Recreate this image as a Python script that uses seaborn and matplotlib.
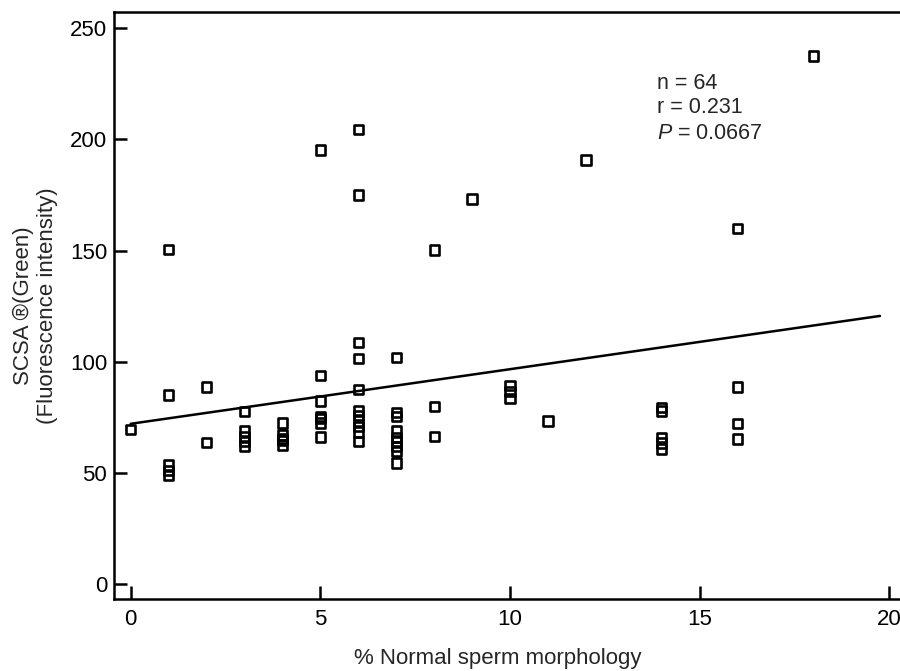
import numpy as np
import pandas as pd
import matplotlib
matplotlib.use("Agg")
import matplotlib.pyplot as plt
import seaborn as sns

# ---- data ----
morphology = [0,
              1, 1, 1, 1, 1,
              2, 2,
              3, 3, 3, 3, 3,
              4, 4, 4, 4, 4,
              5, 5, 5, 5, 5, 5, 5,
              6, 6, 6, 6, 6, 6, 6, 6, 6, 6, 6,
              7, 7, 7, 7, 7, 7, 7, 7, 7,
              8, 8, 8,
              9,
              10, 10, 10,
              11,
              12,
              14, 14, 14, 14, 14,
              16, 16, 16, 16,
              18]
scsa_green = [69.4,
              150.4, 85.1, 53.5, 51.0, 48.8,
              88.7, 63.7,
              77.6, 68.8, 66.4, 64.0, 62.0,
              72.4, 67.1, 65.5, 64.5, 62.6,
              195.3, 93.8, 82.4, 75.5, 74.5, 72.5, 66.2,
              204.6, 175.0, 108.8, 101.6, 87.5, 78.2, 75.8, 73.4, 70.8, 68.4, 64.2,
              102.0, 77.2, 75.5, 68.8, 66.0, 64.0, 61.9, 59.6, 54.5,
              150.3, 79.9, 66.4,
              173.2,
              89.3, 86.5, 83.6,
              73.4,
              190.8,
              79.3, 77.8, 65.8, 63.5, 60.8,
              159.8, 88.7, 72.1, 65.2,
              237.5]
x_ticks = [0, 5, 10, 15, 20]
y_ticks = [0, 50, 100, 150, 200, 250]
fit_intercept = 72.1
fit_slope = 2.456
fit_x_range = [0.0, 19.75]
stats_lines = ["n = 64", "r = 0.231", "$P$ = 0.0667"]
x_label = "% Normal sperm morphology"
y_label = "SCSA \u00ae(Green)\n(Fluorescence intensity)"

sns.set_theme(style="ticks")
plt.rcParams["font.family"] = ["Liberation Sans", "DejaVu Sans"]
plt.rcParams["mathtext.fontset"] = "custom"
plt.rcParams["mathtext.rm"] = "Liberation Sans"
plt.rcParams["mathtext.it"] = "Liberation Sans:italic"

fig = plt.figure(figsize=(9, 6.71), dpi=100)
W, H = 900, 671
ax = fig.add_axes([114 / W, (H - 599) / H, (905 - 114) / W, (599 - 12) / H])

df = pd.DataFrame({"morph": morphology, "green": scsa_green})
sns.scatterplot(data=df, x="morph", y="green", marker="s", s=45,
                facecolor="none", edgecolor="black", linewidth=1.9,
                ax=ax, zorder=3, legend=False)

fit_df = pd.DataFrame({"x": fit_x_range})
fit_df["y"] = fit_intercept + fit_slope * fit_df["x"]
sns.lineplot(data=fit_df, x="x", y="y", color="black", linewidth=1.8, ax=ax)

ax.set_xlim(-0.44, 20.41)
ax.set_ylim(-6.7, 257.3)
ax.set_xticks(x_ticks)
ax.set_yticks(y_ticks)
ax.tick_params(direction="in", length=9.4, width=1.8, labelsize=16,
               colors="black")
ax.tick_params(axis="x", pad=7)
ax.tick_params(axis="y", pad=5)
for sp in ax.spines.values():
    sp.set_linewidth(1.8)
    sp.set_color("black")

ax.set_xlabel(x_label, fontsize=16)
ax.set_ylabel(y_label, fontsize=16, linespacing=1.2)
ax.xaxis.set_label_coords(0.4848, -0.0835)
ax.yaxis.set_label_coords(-0.0708, 0.5)

baselines = [222.6, 211.8, 200.2]
for txt, yb in zip(stats_lines, baselines):
    ax.text(13.87, yb, txt, fontsize=15.5, ha="left", va="baseline")

fig.savefig("out.png", dpi=100)
